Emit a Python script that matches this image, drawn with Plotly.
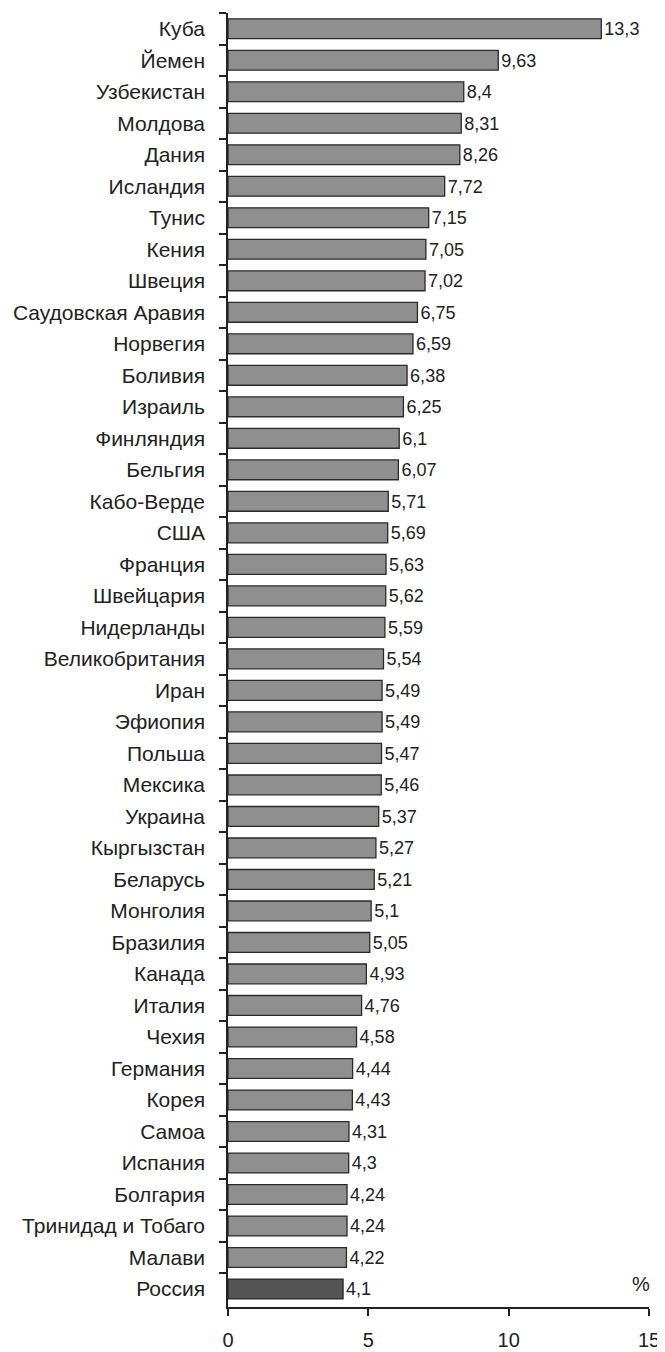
import plotly.graph_objects as go

countries = ["Куба", "Йемен", "Узбекистан", "Молдова", "Дания", "Исландия", "Тунис", "Кения",
             "Швеция", "Саудовская Аравия", "Норвегия", "Боливия", "Израиль", "Финляндия",
             "Бельгия", "Кабо-Верде", "США", "Франция", "Швейцария", "Нидерланды",
             "Великобритания", "Иран", "Эфиопия", "Польша", "Мексика", "Украина",
             "Кыргызстан", "Беларусь", "Монголия", "Бразилия", "Канада", "Италия", "Чехия",
             "Германия", "Корея", "Самоа", "Испания", "Болгария", "Тринидад и Тобаго",
             "Малави", "Россия"]
values = [13.3, 9.63, 8.4, 8.31, 8.26, 7.72, 7.15, 7.05, 7.02, 6.75, 6.59, 6.38, 6.25, 6.1,
          6.07, 5.71, 5.69, 5.63, 5.62, 5.59, 5.54, 5.49, 5.49, 5.47, 5.46, 5.37, 5.27, 5.21,
          5.1, 5.05, 4.93, 4.76, 4.58, 4.44, 4.43, 4.31, 4.3, 4.24, 4.24, 4.22, 4.1]
x_ticks = [0, 5, 10, 15]
highlight = "Россия"

FONT = "Liberation Sans, Arial, sans-serif"
labels = [f"{v:g}".replace(".", ",") for v in values]
colors = ["#555555" if c == highlight else "#8f8f8f" for c in countries]

fig = go.Figure(go.Bar(
    x=values, y=countries, orientation="h",
    marker=dict(color=colors, line=dict(color="#2a2a2a", width=1.3)),
    text=labels, textposition="outside", cliponaxis=False,
    textfont=dict(size=20, color="#222222", family=FONT),
))

# page body has an 8px default margin, so the figure is sized 8px smaller
fig.update_layout(
    width=657, height=1344,
    margin=dict(l=220, r=16, t=5, b=45),
    paper_bgcolor="white", plot_bgcolor="white",
    bargap=0.37, showlegend=False,
    font=dict(family=FONT, size=20, color="#222222"),
    xaxis=dict(range=[0, 15], tickvals=x_ticks, ticktext=[str(t) for t in x_ticks],
               showline=True, linecolor="#222222", linewidth=1.5,
               ticks="outside", ticklen=7, tickwidth=1.5, tickcolor="#222222",
               showgrid=False, zeroline=False, tickfont=dict(size=20),
               ticklabelstandoff=7, automargin=False),
    yaxis=dict(autorange="reversed", showline=True, linecolor="#222222", linewidth=1.5,
               ticks="outside", ticklen=7, tickwidth=1.5, tickcolor="#222222",
               tickson="boundaries", showgrid=False, zeroline=False,
               tickfont=dict(size=21), ticklabelstandoff=17, automargin=False),
    annotations=[dict(x=15, y=highlight, xref="x", yref="y", text="%", showarrow=False,
                      xanchor="right", yanchor="middle", yshift=5, xshift=3,
                      font=dict(size=20, color="#222222"))],
)

fig.write_html("out.html")
